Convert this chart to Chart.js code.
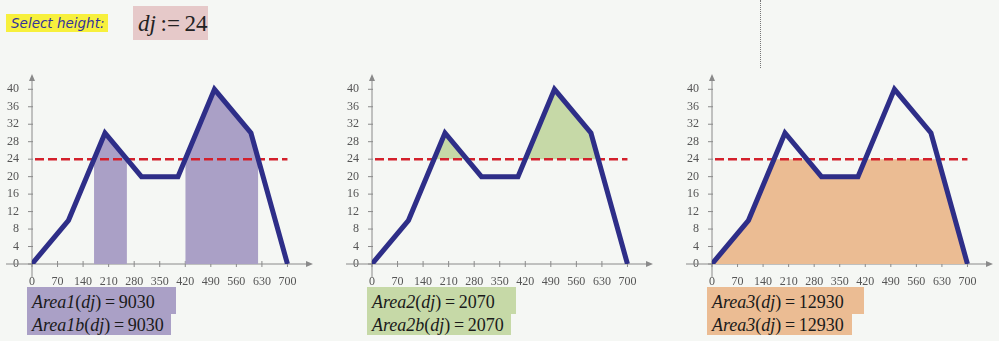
<!DOCTYPE html>
<html>
<head>
<meta charset="utf-8">
<script src="https://cdn.jsdelivr.net/npm/chart.js@4.4.1/dist/chart.umd.min.js"></script>
<style>
  body { margin: 0; width: 999px; height: 341px; overflow: hidden; position: relative; background: #f5f7f4; }
  canvas { position: absolute; top: 60px; }
  #sel { position: absolute; left: 6px; top: 14px; width: 102px; height: 18px; background: #f7f03c;
         font: italic 13.5px "DejaVu Sans", sans-serif; color: #33339a; line-height: 19px; padding-left: 5px; box-sizing: border-box; }
  #dj { position: absolute; left: 133px; top: 6px; width: 75px; height: 34px; background: #e6c9c9;
        font: 23px "Liberation Serif", serif; color: #222; line-height: 36px; padding-left: 5px; box-sizing: border-box; white-space: nowrap; }
  .lbl { position: absolute; font: 18px "Liberation Serif", serif; color: #1a1a1a; box-sizing: border-box; padding-left: 5px; white-space: nowrap; }
  .vdot { position: absolute; left: 760px; top: 0; height: 68px; border-left: 1px dotted #777; }
</style>
</head>
<body>
<div id="sel">Select height:</div>
<div id="dj"><i>dj</i>&thinsp;:=&thinsp;24</div>
<div class="vdot"></div>
<canvas id="c0" width="330" height="225" style="left:0px"></canvas>
<canvas id="c1" width="330" height="225" style="left:340px"></canvas>
<canvas id="c2" width="330" height="225" style="left:680px"></canvas>
<script>
// curve
const xValues = [0, 100, 200, 300, 400, 500, 600, 700];
const yValues = [0, 10, 30, 20, 20, 40, 30, 0];
const heightLevel = 24;
const levelX = [0, 700];

// shaded pieces (crossings of the curve with dj = 24)
const peak1X = [170, 200, 260];
const peak1Y = [24, 30, 24];
const peak2X = [420, 500, 600, 620];
const peak2Y = [24, 40, 30, 24];
const clipX = [0, 100, 170, 260, 300, 400, 420, 620, 700];
const clipY = [0, 10, 24, 24, 20, 20, 24, 24, 0];

const xTicks = [0, 70, 140, 210, 280, 350, 420, 490, 560, 630, 700];
const yTicks = [0, 4, 8, 12, 16, 20, 24, 28, 32, 36, 40];

const areaNames = [["Area1", "Area1b"], ["Area2", "Area2b"], ["Area3", "Area3"]];
const areaValues = [9030, 2070, 12930];
const fillColors = ["#aaa0c6", "#c6d9a7", "#ebbc93"];

const pts = (xs, ys) => xs.map((x, i) => ({ x: x, y: ys[i] }));

const axisColor = "#8a8a8a";
const axesPlugin = {
  id: "axes",
  beforeDatasetsDraw(chart) {
    const ctx = chart.ctx;
    const xs = chart.scales.x, ys = chart.scales.y;
    const x0 = xs.getPixelForValue(0), y0 = ys.getPixelForValue(0);
    const right = chart.chartArea.right, top = chart.chartArea.top;
    ctx.save();
    ctx.strokeStyle = axisColor;
    ctx.fillStyle = axisColor;
    ctx.lineWidth = 1;
    ctx.beginPath();
    ctx.moveTo(x0 - 26, y0); ctx.lineTo(right - 4, y0);
    ctx.moveTo(x0, y0 + 14); ctx.lineTo(x0, top + 4);
    xTicks.forEach(v => {
      const p = xs.getPixelForValue(v);
      ctx.moveTo(p, y0 - 3); ctx.lineTo(p, y0 + 3);
    });
    yTicks.forEach(v => {
      const p = ys.getPixelForValue(v);
      ctx.moveTo(x0 - 4, p); ctx.lineTo(x0 + 1, p);
    });
    ctx.stroke();
    ctx.beginPath();
    ctx.moveTo(right, y0); ctx.lineTo(right - 7, y0 - 3); ctx.lineTo(right - 7, y0 + 3); ctx.closePath();
    ctx.moveTo(x0, top); ctx.lineTo(x0 - 3, top + 7); ctx.lineTo(x0 + 3, top + 7); ctx.closePath();
    ctx.fill();
    ctx.restore();
  }
};

function fillSets(k) {
  const c = fillColors[k];
  const base = { borderWidth: 0, pointRadius: 0, backgroundColor: c, tension: 0 };
  if (k === 0) return [
    Object.assign({}, base, { data: pts(peak1X, peak1Y), fill: "origin" }),
    Object.assign({}, base, { data: pts(peak2X, peak2Y), fill: "origin" })
  ];
  if (k === 1) return [
    Object.assign({}, base, { data: pts(peak1X, peak1Y), fill: { value: heightLevel } }),
    Object.assign({}, base, { data: pts(peak2X, peak2Y), fill: { value: heightLevel } })
  ];
  return [Object.assign({}, base, { data: pts(clipX, clipY), fill: "origin" })];
}

function makeChart(k) {
  const ctx = document.getElementById("c" + k).getContext("2d");
  new Chart(ctx, {
    type: "line",
    data: {
      datasets: [
        {
          data: pts(xValues, yValues),
          borderColor: "#2e2e88",
          borderWidth: 5,
          borderJoinStyle: "miter",
          pointRadius: 0,
          fill: false
        },
        {
          data: pts(levelX, [heightLevel, heightLevel]),
          borderColor: "#d3202b",
          borderWidth: 2.5,
          borderDash: [9, 4],
          borderDashOffset: -3,
          pointRadius: 0,
          fill: false
        }
      ].concat(fillSets(k))
    },
    options: {
      responsive: false,
      devicePixelRatio: 1,
      animation: false,
      layout: { padding: { left: 0, top: 14, right: 17, bottom: 0 } },
      plugins: { legend: { display: false }, tooltip: { enabled: false } },
      scales: {
        x: {
          type: "linear",
          min: 0,
          max: 770,
          afterBuildTicks: s => { s.ticks = xTicks.map(v => ({ value: v })); },
          afterFit: s => { s.height = 21; },
          grid: { display: false },
          border: { display: false },
          ticks: { color: "#555", padding: 3, font: { family: "'Liberation Serif', serif", size: 12 } }
        },
        y: {
          type: "linear",
          min: 0,
          max: 43.5,
          afterBuildTicks: s => { s.ticks = yTicks.map(v => ({ value: v })); },
          afterFit: s => { s.width = 32; },
          grid: { display: false },
          border: { display: false },
          ticks: { color: "#555", padding: 5, font: { family: "'Liberation Serif', serif", size: 12 } }
        }
      }
    },
    plugins: [axesPlugin]
  });
}

[0, 1, 2].forEach(makeChart);

// result boxes under each plot
areaNames.forEach((names, k) => {
  const left = 27 + k * 340;
  const widths = k === 2 ? [157, 145] : [149, 144];
  names.forEach((n, j) => {
    const d = document.createElement("div");
    d.className = "lbl";
    d.style.left = left + "px";
    d.style.top = (j === 0 ? 287 : 314) + "px";
    d.style.width = widths[j] + "px";
    d.style.height = (j === 0 ? 27 : 21) + "px";
    d.style.lineHeight = (j === 0 ? 30 : 22) + "px";
    d.style.background = fillColors[k];
    d.innerHTML = "<i>" + n + "</i>(<i>dj</i>)&thinsp;=&thinsp;" + areaValues[k];
    document.body.appendChild(d);
  });
});
</script>
</body>
</html>
